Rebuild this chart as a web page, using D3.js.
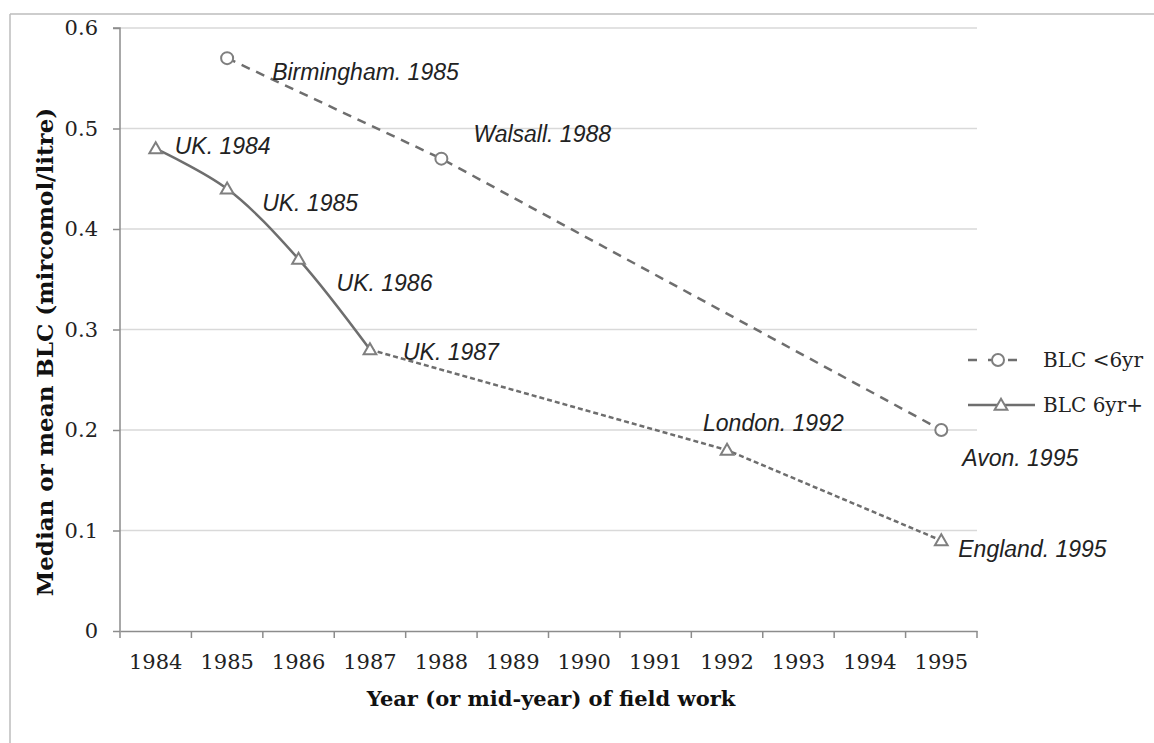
<!DOCTYPE html>
<html>
<head>
<meta charset="utf-8">
<script src="https://cdn.jsdelivr.net/npm/d3@7"></script>
<style>
  body { margin: 0; background: #fff; }
  svg { display: block; }
</style>
</head>
<body>
<div id="chart"></div>
<script>
// categories on the x axis
const years = ["1984", "1985", "1986", "1987", "1988", "1989", "1990",
               "1991", "1992", "1993", "1994", "1995"];
const yTicks = [0, 0.1, 0.2, 0.3, 0.4, 0.5, 0.6];
const yTickLabels = ["0", "0.1", "0.2", "0.3", "0.4", "0.5", "0.6"];

// BLC <6yr
const youngYears = ["1985", "1988", "1995"];
const youngValues = [0.57, 0.47, 0.20];
const youngLabels = ["Birmingham. 1985", "Walsall. 1988", "Avon. 1995"];

// BLC 6yr+
const olderYears = ["1984", "1985", "1986", "1987", "1992", "1995"];
const olderValues = [0.48, 0.44, 0.37, 0.28, 0.18, 0.09];
const olderLabels = ["UK. 1984", "UK. 1985", "UK. 1986", "UK. 1987",
                     "London. 1992", "England. 1995"];

const seriesNames = ["BLC <6yr", "BLC 6yr+"];

// label offsets from their point (pixels)
const youngOffsets = [[45, 14], [32, -25], [21, 28]];
const olderOffsets = [[19, -3], [35, 14], [38, 24], [33, 2], [-24, -27], [17, 8]];

const W = 1154, H = 743;
const margin = { top: 28, right: 177, bottom: 112, left: 120 };

const svg = d3.select("#chart").append("svg")
    .attr("width", W).attr("height", H);

// frame lines
svg.append("line").attr("x1", 10).attr("x2", W).attr("y1", 14).attr("y2", 14)
    .attr("stroke", "#bdbdbd").attr("stroke-width", 1.5);
svg.append("line").attr("x1", 10).attr("x2", 10).attr("y1", 14).attr("y2", H)
    .attr("stroke", "#bdbdbd").attr("stroke-width", 1.5);

const x = d3.scaleBand().domain(years)
    .range([margin.left, W - margin.right]);
const y = d3.scaleLinear().domain([0, 0.6])
    .range([H - margin.bottom, margin.top]);
const cx = d => x(d) + x.bandwidth() / 2;

// gridlines
svg.append("g").selectAll("line")
    .data(yTicks.filter(d => d > 0))
    .enter().append("line")
    .attr("x1", margin.left).attr("x2", W - margin.right)
    .attr("y1", d => y(d)).attr("y2", d => y(d))
    .attr("stroke", "#d9d9d9").attr("stroke-width", 1.5);

// axes
const xAxis = svg.append("g")
    .attr("transform", `translate(0,${H - margin.bottom})`)
    .call(d3.axisBottom(x).tickSize(0).tickPadding(23));
xAxis.select(".domain").attr("stroke", "#8c8c8c").attr("stroke-width", 1.5);
xAxis.selectAll("text").attr("font-family", "DejaVu Serif")
    .attr("font-size", 21).attr("fill", "#222");
// tick marks at band boundaries
xAxis.selectAll(".bound")
    .data(years.concat(["end"]))
    .enter().append("line")
    .attr("class", "bound")
    .attr("x1", (d, i) => margin.left + i * x.bandwidth())
    .attr("x2", (d, i) => margin.left + i * x.bandwidth())
    .attr("y1", 0).attr("y2", 7)
    .attr("stroke", "#8c8c8c").attr("stroke-width", 1.5);

const yAxis = svg.append("g")
    .attr("transform", `translate(${margin.left},0)`)
    .call(d3.axisLeft(y).tickValues(yTicks)
        .tickFormat((d, i) => yTickLabels[i]).tickSize(7).tickPadding(15));
yAxis.select(".domain").attr("stroke", "#8c8c8c").attr("stroke-width", 1.5)
    .attr("d", `M-7,${y(0.6)}H0V${y(0)}`);
yAxis.selectAll(".tick line").attr("stroke", "#8c8c8c").attr("stroke-width", 1.5);
yAxis.selectAll("text").attr("font-family", "DejaVu Serif")
    .attr("font-size", 21).attr("fill", "#222");

// axis titles
svg.append("text")
    .attr("x", 551).attr("y", 706)
    .attr("text-anchor", "middle")
    .attr("font-family", "DejaVu Serif").attr("font-weight", "bold")
    .attr("font-size", 21).attr("fill", "#111")
    .text("Year (or mid-year) of field work");
svg.append("text")
    .attr("transform", "translate(53,352) rotate(-90)")
    .attr("text-anchor", "middle")
    .attr("font-family", "DejaVu Serif").attr("font-weight", "bold")
    .attr("font-size", 23).attr("fill", "#111")
    .text("Median or mean BLC (mircomol/litre)");

const lineColor = "#6e6e6e";
const markColor = "#7f7f7f";
const line = d3.line().x(d => cx(d[0])).y(d => y(d[1]));

const young = youngYears.map((d, i) => [d, youngValues[i]]);
const older = olderYears.map((d, i) => [d, olderValues[i]]);

svg.append("path").datum(young)
    .attr("d", line)
    .attr("fill", "none").attr("stroke", lineColor)
    .attr("stroke-width", 2.5).attr("stroke-dasharray", "9,7");

svg.append("path").datum(older.slice(0, 4))
    .attr("d", line.curve(d3.curveCatmullRom.alpha(0.5)))
    .attr("fill", "none").attr("stroke", lineColor).attr("stroke-width", 2.5);
line.curve(d3.curveLinear);
svg.append("path").datum(older.slice(3))
    .attr("d", line)
    .attr("fill", "none").attr("stroke", lineColor)
    .attr("stroke-width", 2.5).attr("stroke-dasharray", "5,3");

const tri = d3.symbol().type(d3.symbolTriangle).size(70);

svg.append("g").selectAll("circle")
    .data(young).enter().append("circle")
    .attr("cx", d => cx(d[0])).attr("cy", d => y(d[1])).attr("r", 6)
    .attr("fill", "#fff").attr("stroke", markColor).attr("stroke-width", 2);

svg.append("g").selectAll("path")
    .data(older).enter().append("path")
    .attr("d", tri)
    .attr("transform", d => `translate(${cx(d[0])},${y(d[1]) + 1})`)
    .attr("fill", "#fff").attr("stroke", markColor).attr("stroke-width", 2);

// data labels
function addLabels(data, labels, offsets) {
    svg.append("g").selectAll("text")
        .data(data).enter().append("text")
        .attr("x", (d, i) => cx(d[0]) + offsets[i][0])
        .attr("y", (d, i) => y(d[1]) + offsets[i][1])
        .attr("dy", "0.35em")
        .attr("font-family", "Liberation Sans").attr("font-style", "italic")
        .attr("font-size", 23).attr("fill", "#222")
        .text((d, i) => labels[i]);
}
addLabels(young, youngLabels, youngOffsets);
addLabels(older, olderLabels, olderOffsets);

// legend
const legend = svg.append("g").attr("transform", "translate(968,360)");
[0, 1].forEach(i => {
    const g = legend.append("g").attr("transform", `translate(0,${i * 45})`);
    g.append("line").attr("x1", 0).attr("x2", i === 0 ? 56 : 67)
        .attr("y1", 0).attr("y2", 0)
        .attr("stroke", lineColor).attr("stroke-width", 2.5)
        .attr("stroke-dasharray", i === 0 ? "9,11" : null);
    if (i === 0) {
        g.append("circle").attr("cx", 30).attr("cy", 0).attr("r", 6)
            .attr("fill", "#fff").attr("stroke", markColor).attr("stroke-width", 2);
    } else {
        g.append("path").attr("d", tri).attr("transform", "translate(33,1)")
            .attr("fill", "#fff").attr("stroke", markColor).attr("stroke-width", 2);
    }
    g.append("text").attr("x", 75).attr("y", 0).attr("dy", "0.35em")
        .attr("font-family", "DejaVu Serif").attr("font-size", 20)
        .attr("fill", "#222").text(seriesNames[i]);
});
</script>
</body>
</html>
